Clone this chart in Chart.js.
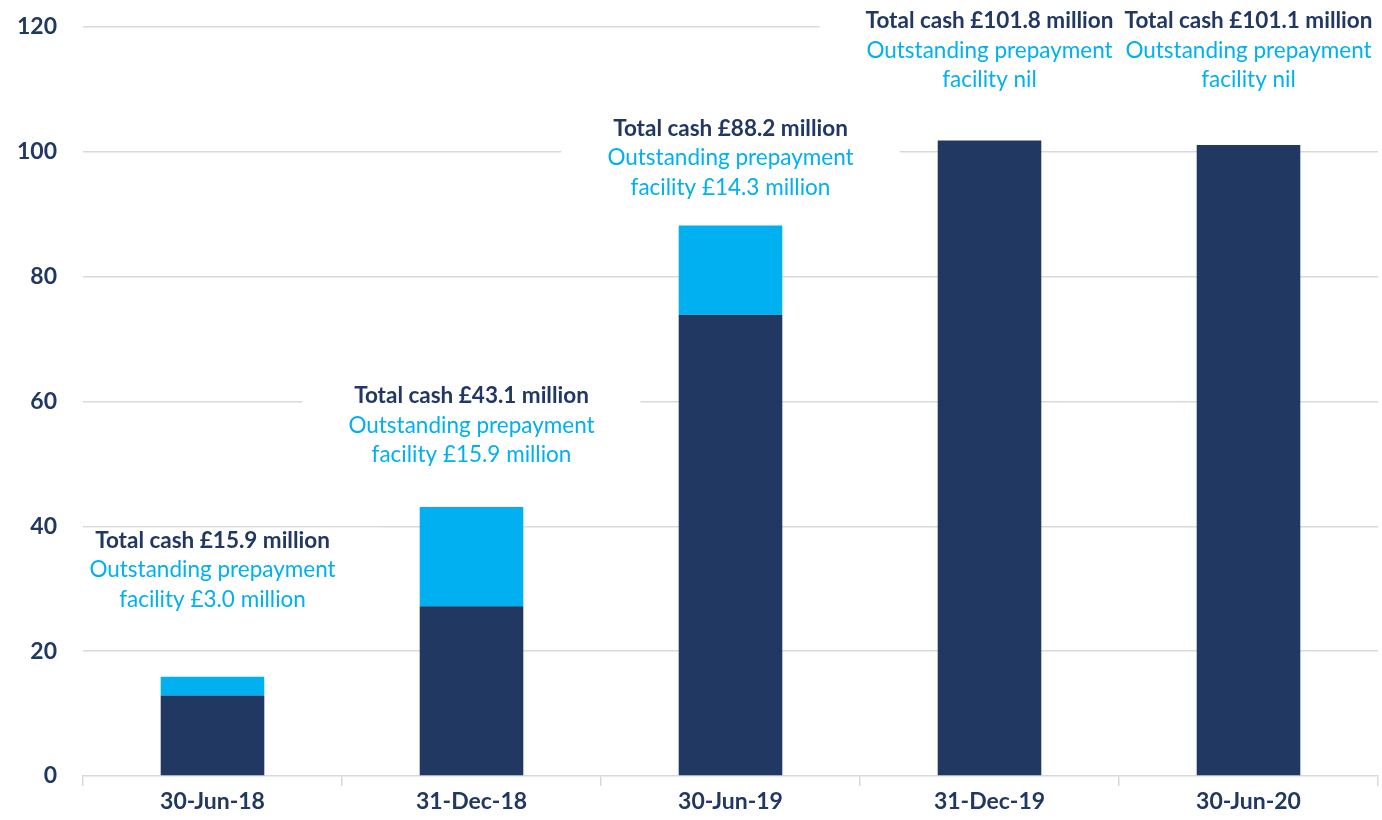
<!DOCTYPE html>
<html>
<head>
<meta charset="utf-8">
<script src="https://cdn.jsdelivr.net/npm/chart.js@4"></script>
<style>
  html, body { margin: 0; padding: 0; background: #fff; }
  #wrap { width: 1382px; height: 820px; }
</style>
</head>
<body>
<div id="wrap"><canvas id="cashChart" width="1382" height="820"></canvas></div>
<script>
const categories = ['30-Jun-18', '31-Dec-18', '30-Jun-19', '31-Dec-19', '30-Jun-20'];
const netCash = [12.9, 27.2, 73.9, 101.8, 101.1];
const prepayment = [3.0, 15.9, 14.3, 0, 0];
const totalCash = [15.9, 43.1, 88.2, 101.8, 101.1];
const prepaymentText = ['facility £3.0 million', 'facility £15.9 million', 'facility £14.3 million', 'facility nil', 'facility nil'];
const yTicks = [0, 20, 40, 60, 80, 100, 120];

const navy = '#213863';
const cyan = '#00B0F0';
const gridGrey = '#d9d9d9';
const font = 'Lato';
const labelSize = 22.5;

// value on the y axis where the first label line sits
const labelAt = [37.7, 60.9, 103.7, 121, 121];

const barLabels = {
    id: 'barLabels',
    afterDatasetsDraw(chart) {
        const c = chart.ctx;
        const xs = chart.scales.x;
        const ys = chart.scales.y;
        const area = chart.chartArea;
        const blocks = categories.map((cat, i) => {
            const lines = [
                ['Total cash £' + totalCash[i].toFixed(1) + ' million', 'bold', navy],
                ['Outstanding prepayment', 'normal', cyan],
                [prepaymentText[i], 'normal', cyan]
            ];
            let w = 0;
            lines.forEach(l => {
                c.font = l[1] + ' ' + labelSize + 'px ' + font;
                w = Math.max(w, c.measureText(l[0]).width);
            });
            return { x: xs.getPixelForValue(i), y: ys.getPixelForValue(labelAt[i]), w, lines };
        });
        c.save();
        c.beginPath();
        c.rect(area.left, 0, area.right - area.left, area.bottom);
        c.clip();
        c.fillStyle = '#fff';
        blocks.forEach(b => {
            c.fillRect(b.x - b.w / 2 - 46, b.y - 13, b.w + 92, 29.5 * 2 + 28);
        });
        c.restore();
        c.save();
        c.textAlign = 'center';
        c.textBaseline = 'middle';
        blocks.forEach(b => {
            b.lines.forEach((l, k) => {
                c.font = l[1] + ' ' + labelSize + 'px ' + font;
                c.fillStyle = l[2];
                c.fillText(l[0], b.x, b.y + k * 29.5);
            });
        });
        c.restore();
    }
};

new Chart(document.getElementById('cashChart').getContext('2d'), {
    type: 'bar',
    data: {
        labels: categories,
        datasets: [
            {
                label: 'Cash',
                data: netCash,
                backgroundColor: navy,
                barPercentage: 0.4,
                categoryPercentage: 1
            },
            {
                label: 'Prepayment facility',
                data: prepayment,
                backgroundColor: cyan,
                barPercentage: 0.4,
                categoryPercentage: 1
            }
        ]
    },
    options: {
        responsive: false,
        maintainAspectRatio: false,
        animation: false,
        layout: { padding: { top: 27, right: 4, left: 0, bottom: 0 } },
        plugins: {
            legend: { display: false },
            tooltip: { enabled: false }
        },
        scales: {
            x: {
                stacked: true,
                grid: {
                    display: true,
                    drawOnChartArea: false,
                    drawTicks: true,
                    tickLength: 10,
                    color: gridGrey,
                    lineWidth: 1.5,
                    offset: true
                },
                border: { color: gridGrey, width: 1.5 },
                ticks: {
                    color: navy,
                    font: { family: font, size: 23, weight: 'bold' },
                    padding: 2
                },
                afterFit(scale) { scale.height = 44; }
            },
            y: {
                stacked: true,
                min: 0,
                max: 120,
                afterBuildTicks(scale) { scale.ticks = yTicks.map(v => ({ value: v })); },
                grid: {
                    color: (ctx) => ctx.tick && ctx.tick.value === 0 ? 'rgba(0,0,0,0)' : gridGrey,
                    lineWidth: 1.5,
                    drawTicks: false
                },
                border: { display: false },
                ticks: {
                    color: navy,
                    font: { family: font, size: 23, weight: 'bold' },
                    padding: 26
                },
                afterFit(scale) {
                    scale.width = 83;
                    scale.paddingTop = 0;
                    scale.paddingBottom = 0;
                }
            }
        }
    },
    plugins: [barLabels]
});
</script>
</body>
</html>
